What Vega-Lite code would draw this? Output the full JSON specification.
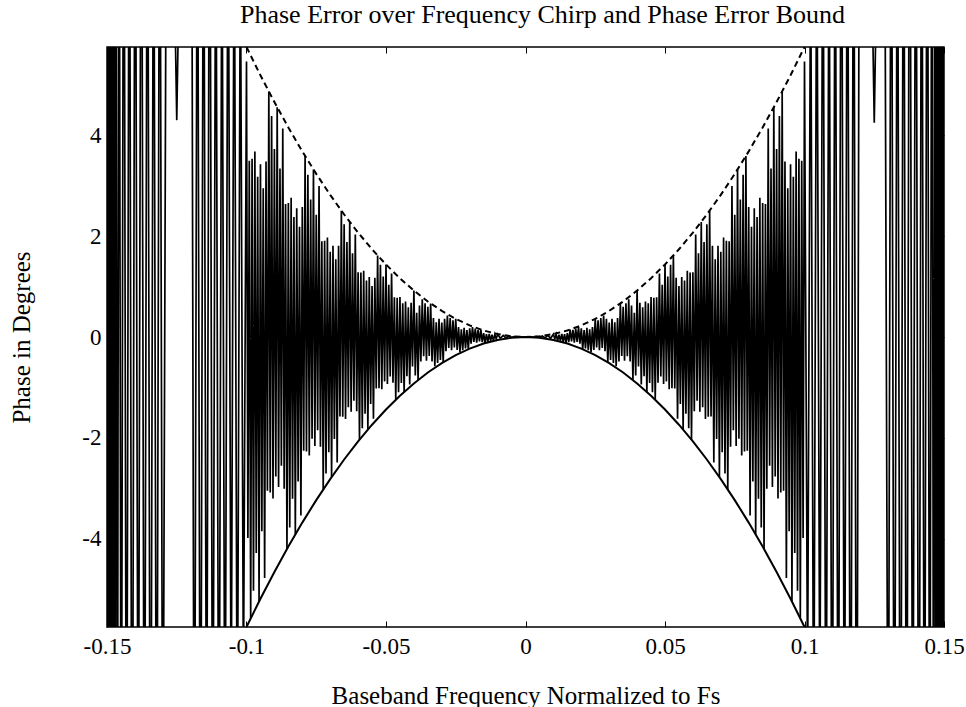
{
"$schema": "https://vega.github.io/schema/vega-lite/v6.json",
"width": 837, "height": 580,
"autosize": {"type": "none"},
"padding": {"left": 107, "top": 47, "right": 22, "bottom": 80},
"background": "white",
"config": {"view": {"stroke": "black", "strokeWidth": 1.5}, "font": "Liberation Serif"},
"title": {"text": "Phase Error over Frequency Chirp and Phase Error Bound", "font": "Liberation Serif", "fontSize": 26, "fontWeight": "normal", "color": "black", "offset": 19, "dx": 17},
"datasets": {
"sig": [
{"f":-0.1502,"p":12},{"f":-0.1499,"p":-12},{"f":-0.1496,"p":13},{"f":-0.1493,"p":-13},{"f":-0.1490,"p":12},{"f":-0.1487,"p":-13},{"f":-0.1484,"p":13},{"f":-0.1480,"p":-12},{"f":-0.1476,"p":13},{"f":-0.1472,"p":-13},{"f":-0.1468,"p":12},{"f":-0.1463,"p":-13},{"f":-0.1457,"p":13},{"f":-0.1449,"p":-12},{"f":-0.1440,"p":13},{"f":-0.1430,"p":-12},{"f":-0.1420,"p":12},{"f":-0.1410,"p":-13},{"f":-0.1399,"p":12},{"f":-0.1388,"p":-11},{"f":-0.1377,"p":13},{"f":-0.1366,"p":-12},{"f":-0.1355,"p":12},{"f":-0.1344,"p":-13},{"f":-0.1333,"p":11},{"f":-0.1322,"p":-12},{"f":-0.1311,"p":12},{"f":-0.1300,"p":-11},{"f":-0.1285,"p":13},{"f":-0.1264,"p":9},{"f":-0.1250,"p":4.3},{"f":-0.1236,"p":9},{"f":-0.1210,"p":12},{"f":-0.1198,"p":13},{"f":-0.1187,"p":-12},{"f":-0.1176,"p":11},{"f":-0.1165,"p":-12},{"f":-0.1154,"p":11},{"f":-0.1143,"p":-10},{"f":-0.1132,"p":12},{"f":-0.1121,"p":-11},{"f":-0.1110,"p":10},{"f":-0.1099,"p":-11},{"f":-0.1088,"p":9},{"f":-0.1077,"p":-10},{"f":-0.1066,"p":10},{"f":-0.1055,"p":-8},{"f":-0.1044,"p":9},{"f":-0.1033,"p":-9},{"f":-0.1022,"p":8},{"f":-0.1011,"p":-7},
{"f":-0.1000,"p":5.463},{"f":-0.0995,"p":-3.985},{"f":-0.0990,"p":3.494},{"f":-0.0985,"p":-5.579},{"f":-0.0980,"p":3.534},{"f":-0.0975,"p":-5.029},{"f":-0.0970,"p":3.679},{"f":-0.0965,"p":-4.283},{"f":-0.0960,"p":3.179},{"f":-0.0955,"p":-5.244},{"f":-0.0950,"p":3.425},{"f":-0.0945,"p":-3.851},{"f":-0.0940,"p":2.947},{"f":-0.0935,"p":-4.776},{"f":-0.0930,"p":3.481},{"f":-0.0925,"p":-3.050},{"f":-0.0920,"p":4.867},{"f":-0.0915,"p":-3.081},{"f":-0.0910,"p":4.380},{"f":-0.0905,"p":-3.202},{"f":-0.0900,"p":3.726},{"f":-0.0895,"p":-2.764},{"f":-0.0890,"p":4.555},{"f":-0.0885,"p":-2.973},{"f":-0.0880,"p":3.340},{"f":-0.0875,"p":-2.553},{"f":-0.0870,"p":4.134},{"f":-0.0865,"p":-3.011},{"f":-0.0860,"p":2.637},{"f":-0.0855,"p":-4.203},{"f":-0.0850,"p":2.659},{"f":-0.0845,"p":-3.778},{"f":-0.0840,"p":2.759},{"f":-0.0835,"p":-3.207},{"f":-0.0830,"p":2.377},{"f":-0.0825,"p":-3.914},{"f":-0.0820,"p":2.552},{"f":-0.0815,"p":-2.864},{"f":-0.0810,"p":2.188},{"f":-0.0805,"p":-3.540},{"f":-0.0800,"p":2.576},{"f":-0.0795,"p":-2.253},{"f":-0.0790,"p":3.589},{"f":-0.0785,"p":-2.268},{"f":-0.0780,"p":3.218},{"f":-0.0775,"p":-2.349},{"f":-0.0770,"p":2.727},{"f":-0.0765,"p":-2.019},{"f":-0.0760,"p":3.321},{"f":-0.0755,"p":-2.163},{"f":-0.0750,"p":2.426},{"f":-0.0745,"p":-1.851},{"f":-0.0740,"p":2.992},{"f":-0.0735,"p":-2.174},{"f":-0.0730,"p":1.900},{"f":-0.0725,"p":-3.022},{"f":-0.0720,"p":1.908},{"f":-0.0715,"p":-2.705},{"f":-0.0710,"p":1.971},{"f":-0.0705,"p":-2.286},{"f":-0.0700,"p":1.691},{"f":-0.0695,"p":-2.777},{"f":-0.0690,"p":1.807},{"f":-0.0685,"p":-2.024},{"f":-0.0680,"p":1.542},{"f":-0.0675,"p":-2.489},{"f":-0.0670,"p":1.807},{"f":-0.0665,"p":-1.577},{"f":-0.0660,"p":2.505},{"f":-0.0655,"p":-1.579},{"f":-0.0650,"p":2.235},{"f":-0.0645,"p":-1.627},{"f":-0.0640,"p":1.884},{"f":-0.0635,"p":-1.391},{"f":-0.0630,"p":2.282},{"f":-0.0625,"p":-1.482},{"f":-0.0620,"p":1.658},{"f":-0.0615,"p":-1.262},{"f":-0.0610,"p":2.033},{"f":-0.0605,"p":-1.474},{"f":-0.0600,"p":1.283},{"f":-0.0595,"p":-2.036},{"f":-0.0590,"p":1.281},{"f":-0.0585,"p":-1.811},{"f":-0.0580,"p":1.315},{"f":-0.0575,"p":-1.521},{"f":-0.0570,"p":1.121},{"f":-0.0565,"p":-1.836},{"f":-0.0560,"p":1.190},{"f":-0.0555,"p":-1.328},{"f":-0.0550,"p":1.009},{"f":-0.0545,"p":-1.623},{"f":-0.0540,"p":1.174},{"f":-0.0535,"p":-1.021},{"f":-0.0530,"p":1.615},{"f":-0.0525,"p":-1.014},{"f":-0.0520,"p":1.431},{"f":-0.0515,"p":-1.037},{"f":-0.0510,"p":1.197},{"f":-0.0505,"p":-0.880},{"f":-0.0500,"p":1.438},{"f":-0.0495,"p":-0.930},{"f":-0.0490,"p":1.036},{"f":-0.0485,"p":-0.785},{"f":-0.0480,"p":1.259},{"f":-0.0475,"p":-0.908},{"f":-0.0470,"p":0.787},{"f":-0.0465,"p":-1.243},{"f":-0.0460,"p":0.779},{"f":-0.0455,"p":-1.095},{"f":-0.0450,"p":0.792},{"f":-0.0445,"p":-0.911},{"f":-0.0440,"p":0.668},{"f":-0.0435,"p":-1.088},{"f":-0.0430,"p":0.702},{"f":-0.0425,"p":-0.779},{"f":-0.0420,"p":0.588},{"f":-0.0415,"p":-0.941},{"f":-0.0410,"p":0.677},{"f":-0.0405,"p":-0.585},{"f":-0.0400,"p":0.92},
{"f":-0.0395,"p":-0.763},{"f":-0.0390,"p":0.481},{"f":-0.0385,"p":-0.852},{"f":-0.0380,"p":0.623},{"f":-0.0375,"p":-0.485},{"f":-0.0370,"p":0.748},{"f":-0.0365,"p":-0.383},{"f":-0.0360,"p":0.671},{"f":-0.0355,"p":-0.471},{"f":-0.0350,"p":0.599},{"f":-0.0345,"p":-0.376},{"f":-0.0340,"p":0.665},{"f":-0.0335,"p":-0.484},{"f":-0.0330,"p":0.376},{"f":-0.0325,"p":-0.577},{"f":-0.0320,"p":0.294},{"f":-0.0315,"p":-0.513},{"f":-0.0310,"p":0.359},{"f":-0.0305,"p":-0.455},{"f":-0.0300,"p":0.285},{"f":-0.0295,"p":-0.500},{"f":-0.0290,"p":0.363},{"f":-0.0285,"p":-0.280},{"f":-0.0280,"p":0.428},{"f":-0.0275,"p":-0.217},{"f":-0.0270,"p":0.377},{"f":-0.0265,"p":-0.262},{"f":-0.0260,"p":0.330},{"f":-0.0255,"p":-0.206},{"f":-0.0250,"p":0.359},{"f":-0.0245,"p":-0.259},{"f":-0.0240,"p":0.199},{"f":-0.0235,"p":-0.302},{"f":-0.0230,"p":0.152},{"f":-0.0225,"p":-0.262},{"f":-0.0220,"p":0.181},{"f":-0.0215,"p":-0.226},{"f":-0.0210,"p":0.139},{"f":-0.0205,"p":-0.242},{"f":-0.0200,"p":0.173},{"f":-0.0195,"p":-0.131},{"f":-0.0190,"p":0.197},{"f":-0.0185,"p":-0.098},{"f":-0.0180,"p":0.168},{"f":-0.0175,"p":-0.114},{"f":-0.0170,"p":0.141},{"f":-0.0165,"p":-0.086},{"f":-0.0160,"p":0.147},{"f":-0.0155,"p":-0.104},{"f":-0.0150,"p":0.078},{"f":-0.0145,"p":-0.115},{"f":-0.0140,"p":0.056},{"f":-0.0135,"p":-0.094},{"f":-0.0130,"p":0.063},{"f":-0.0125,"p":-0.076},{"f":-0.0120,"p":0.046},{"f":-0.0115,"p":-0.076},{"f":-0.0110,"p":0.052},{"f":-0.0105,"p":-0.038},{"f":-0.0100,"p":0.055},
{"f":-0.009,"p":-0.026},{"f":-0.008,"p":0.033},{"f":-0.007,"p":-0.018},{"f":-0.006,"p":0.02},{"f":-0.005,"p":-0.007},{"f":-0.004,"p":0.007},{"f":-0.003,"p":-0.003},{"f":-0.002,"p":0.002},{"f":-0.001,"p":-0.001},{"f":0,"p":0},
{"f":0.001,"p":-0.001},{"f":0.002,"p":0.002},{"f":0.003,"p":-0.003},{"f":0.004,"p":0.007},{"f":0.005,"p":-0.007},{"f":0.006,"p":0.02},{"f":0.007,"p":-0.018},{"f":0.008,"p":0.033},{"f":0.009,"p":-0.026},
{"f":0.0100,"p":0.055},{"f":0.0105,"p":-0.038},{"f":0.0110,"p":0.052},{"f":0.0115,"p":-0.076},{"f":0.0120,"p":0.046},{"f":0.0125,"p":-0.076},{"f":0.0130,"p":0.063},{"f":0.0135,"p":-0.094},{"f":0.0140,"p":0.056},{"f":0.0145,"p":-0.115},{"f":0.0150,"p":0.078},{"f":0.0155,"p":-0.104},{"f":0.0160,"p":0.147},{"f":0.0165,"p":-0.086},{"f":0.0170,"p":0.141},{"f":0.0175,"p":-0.114},{"f":0.0180,"p":0.168},{"f":0.0185,"p":-0.098},{"f":0.0190,"p":0.197},{"f":0.0195,"p":-0.131},{"f":0.0200,"p":0.173},{"f":0.0205,"p":-0.242},{"f":0.0210,"p":0.139},{"f":0.0215,"p":-0.226},{"f":0.0220,"p":0.181},{"f":0.0225,"p":-0.262},{"f":0.0230,"p":0.152},{"f":0.0235,"p":-0.302},{"f":0.0240,"p":0.199},{"f":0.0245,"p":-0.259},{"f":0.0250,"p":0.359},{"f":0.0255,"p":-0.206},{"f":0.0260,"p":0.330},{"f":0.0265,"p":-0.262},{"f":0.0270,"p":0.377},{"f":0.0275,"p":-0.217},{"f":0.0280,"p":0.428},{"f":0.0285,"p":-0.280},{"f":0.0290,"p":0.363},{"f":0.0295,"p":-0.500},{"f":0.0300,"p":0.285},{"f":0.0305,"p":-0.455},{"f":0.0310,"p":0.359},{"f":0.0315,"p":-0.513},{"f":0.0320,"p":0.294},{"f":0.0325,"p":-0.577},{"f":0.0330,"p":0.376},{"f":0.0335,"p":-0.484},{"f":0.0340,"p":0.665},{"f":0.0345,"p":-0.376},{"f":0.0350,"p":0.599},{"f":0.0355,"p":-0.471},{"f":0.0360,"p":0.671},{"f":0.0365,"p":-0.383},{"f":0.0370,"p":0.748},{"f":0.0375,"p":-0.485},{"f":0.0380,"p":0.623},{"f":0.0385,"p":-0.852},{"f":0.0390,"p":0.481},{"f":0.0395,"p":-0.763},
{"f":0.0400,"p":0.92},{"f":0.0405,"p":-0.585},{"f":0.0410,"p":0.677},{"f":0.0415,"p":-0.941},{"f":0.0420,"p":0.588},{"f":0.0425,"p":-0.779},{"f":0.0430,"p":0.702},{"f":0.0435,"p":-1.088},{"f":0.0440,"p":0.668},{"f":0.0445,"p":-0.911},{"f":0.0450,"p":0.792},{"f":0.0455,"p":-1.095},{"f":0.0460,"p":0.779},{"f":0.0465,"p":-1.243},{"f":0.0470,"p":0.787},{"f":0.0475,"p":-0.908},{"f":0.0480,"p":1.259},{"f":0.0485,"p":-0.785},{"f":0.0490,"p":1.036},{"f":0.0495,"p":-0.930},{"f":0.0500,"p":1.438},{"f":0.0505,"p":-0.880},{"f":0.0510,"p":1.197},{"f":0.0515,"p":-1.037},{"f":0.0520,"p":1.431},{"f":0.0525,"p":-1.014},{"f":0.0530,"p":1.615},{"f":0.0535,"p":-1.021},{"f":0.0540,"p":1.174},{"f":0.0545,"p":-1.623},{"f":0.0550,"p":1.009},{"f":0.0555,"p":-1.328},{"f":0.0560,"p":1.190},{"f":0.0565,"p":-1.836},{"f":0.0570,"p":1.121},{"f":0.0575,"p":-1.521},{"f":0.0580,"p":1.315},{"f":0.0585,"p":-1.811},{"f":0.0590,"p":1.281},{"f":0.0595,"p":-2.036},{"f":0.0600,"p":1.283},{"f":0.0605,"p":-1.474},{"f":0.0610,"p":2.033},{"f":0.0615,"p":-1.262},{"f":0.0620,"p":1.658},{"f":0.0625,"p":-1.482},{"f":0.0630,"p":2.282},{"f":0.0635,"p":-1.391},{"f":0.0640,"p":1.884},{"f":0.0645,"p":-1.627},{"f":0.0650,"p":2.235},{"f":0.0655,"p":-1.579},{"f":0.0660,"p":2.505},{"f":0.0665,"p":-1.577},{"f":0.0670,"p":1.807},{"f":0.0675,"p":-2.489},{"f":0.0680,"p":1.542},{"f":0.0685,"p":-2.024},{"f":0.0690,"p":1.807},{"f":0.0695,"p":-2.777},{"f":0.0700,"p":1.691},{"f":0.0705,"p":-2.286},{"f":0.0710,"p":1.971},{"f":0.0715,"p":-2.705},{"f":0.0720,"p":1.908},{"f":0.0725,"p":-3.022},{"f":0.0730,"p":1.900},{"f":0.0735,"p":-2.174},{"f":0.0740,"p":2.992},{"f":0.0745,"p":-1.851},{"f":0.0750,"p":2.426},{"f":0.0755,"p":-2.163},{"f":0.0760,"p":3.321},{"f":0.0765,"p":-2.019},{"f":0.0770,"p":2.727},{"f":0.0775,"p":-2.349},{"f":0.0780,"p":3.218},{"f":0.0785,"p":-2.268},{"f":0.0790,"p":3.589},{"f":0.0795,"p":-2.253},{"f":0.0800,"p":2.576},{"f":0.0805,"p":-3.540},{"f":0.0810,"p":2.188},{"f":0.0815,"p":-2.864},{"f":0.0820,"p":2.552},{"f":0.0825,"p":-3.914},{"f":0.0830,"p":2.377},{"f":0.0835,"p":-3.207},{"f":0.0840,"p":2.759},{"f":0.0845,"p":-3.778},{"f":0.0850,"p":2.659},{"f":0.0855,"p":-4.203},{"f":0.0860,"p":2.637},{"f":0.0865,"p":-3.011},{"f":0.0870,"p":4.134},{"f":0.0875,"p":-2.553},{"f":0.0880,"p":3.340},{"f":0.0885,"p":-2.973},{"f":0.0890,"p":4.555},{"f":0.0895,"p":-2.764},{"f":0.0900,"p":3.726},{"f":0.0905,"p":-3.202},{"f":0.0910,"p":4.380},{"f":0.0915,"p":-3.081},{"f":0.0920,"p":4.867},{"f":0.0925,"p":-3.050},{"f":0.0930,"p":3.481},{"f":0.0935,"p":-4.776},{"f":0.0940,"p":2.947},{"f":0.0945,"p":-3.851},{"f":0.0950,"p":3.425},{"f":0.0955,"p":-5.244},{"f":0.0960,"p":3.179},{"f":0.0965,"p":-4.283},{"f":0.0970,"p":3.679},{"f":0.0975,"p":-5.029},{"f":0.0980,"p":3.534},{"f":0.0985,"p":-5.579},{"f":0.0990,"p":3.494},{"f":0.0995,"p":-3.985},{"f":0.1000,"p":5.463},
{"f":0.1011,"p":-7},{"f":0.1022,"p":8},{"f":0.1033,"p":-9},{"f":0.1044,"p":9},{"f":0.1055,"p":-8},{"f":0.1066,"p":10},{"f":0.1077,"p":-10},{"f":0.1088,"p":9},{"f":0.1099,"p":-11},{"f":0.1110,"p":10},{"f":0.1121,"p":-11},{"f":0.1132,"p":12},{"f":0.1143,"p":-10},{"f":0.1154,"p":11},{"f":0.1165,"p":-12},{"f":0.1176,"p":11},{"f":0.1187,"p":-12},{"f":0.1198,"p":13},{"f":0.1210,"p":12},{"f":0.1236,"p":9},{"f":0.1250,"p":4.25},{"f":0.1264,"p":9},{"f":0.1285,"p":13},{"f":0.1300,"p":-11},{"f":0.1311,"p":12},{"f":0.1322,"p":-12},{"f":0.1333,"p":11},{"f":0.1344,"p":-13},{"f":0.1355,"p":12},{"f":0.1366,"p":-12},{"f":0.1377,"p":13},{"f":0.1388,"p":-11},{"f":0.1399,"p":12},{"f":0.1410,"p":-13},{"f":0.1420,"p":12},{"f":0.1430,"p":-12},{"f":0.1440,"p":13},{"f":0.1449,"p":-12},{"f":0.1457,"p":13},{"f":0.1463,"p":-13},{"f":0.1468,"p":12},{"f":0.1472,"p":-13},{"f":0.1476,"p":13},{"f":0.1480,"p":-12},{"f":0.1484,"p":13},{"f":0.1487,"p":-13},{"f":0.1490,"p":12},{"f":0.1493,"p":-13},{"f":0.1496,"p":13},{"f":0.1499,"p":-12},{"f":0.1502,"p":12}
],
"bound": [
{"f":-0.100,"up":5.75,"lo":-5.75},{"f":-0.095,"up":5.189,"lo":-5.189},{"f":-0.090,"up":4.658,"lo":-4.658},{"f":-0.085,"up":4.154,"lo":-4.154},{"f":-0.080,"up":3.68,"lo":-3.68},{"f":-0.075,"up":3.234,"lo":-3.234},{"f":-0.070,"up":2.818,"lo":-2.818},{"f":-0.065,"up":2.429,"lo":-2.429},{"f":-0.060,"up":2.07,"lo":-2.07},{"f":-0.055,"up":1.739,"lo":-1.739},{"f":-0.050,"up":1.438,"lo":-1.438},{"f":-0.045,"up":1.164,"lo":-1.164},{"f":-0.040,"up":0.92,"lo":-0.92},{"f":-0.035,"up":0.704,"lo":-0.704},{"f":-0.030,"up":0.518,"lo":-0.518},{"f":-0.025,"up":0.359,"lo":-0.359},{"f":-0.020,"up":0.23,"lo":-0.23},{"f":-0.015,"up":0.129,"lo":-0.129},{"f":-0.010,"up":0.058,"lo":-0.058},{"f":-0.005,"up":0.014,"lo":-0.014},{"f":0,"up":0,"lo":0},
{"f":0.005,"up":0.014,"lo":-0.014},{"f":0.010,"up":0.058,"lo":-0.058},{"f":0.015,"up":0.129,"lo":-0.129},{"f":0.020,"up":0.23,"lo":-0.23},{"f":0.025,"up":0.359,"lo":-0.359},{"f":0.030,"up":0.518,"lo":-0.518},{"f":0.035,"up":0.704,"lo":-0.704},{"f":0.040,"up":0.92,"lo":-0.92},{"f":0.045,"up":1.164,"lo":-1.164},{"f":0.050,"up":1.438,"lo":-1.438},{"f":0.055,"up":1.739,"lo":-1.739},{"f":0.060,"up":2.07,"lo":-2.07},{"f":0.065,"up":2.429,"lo":-2.429},{"f":0.070,"up":2.818,"lo":-2.818},{"f":0.075,"up":3.234,"lo":-3.234},{"f":0.080,"up":3.68,"lo":-3.68},{"f":0.085,"up":4.154,"lo":-4.154},{"f":0.090,"up":4.658,"lo":-4.658},{"f":0.095,"up":5.189,"lo":-5.189},{"f":0.100,"up":5.75,"lo":-5.75}
]
},
"layer": [
{
"data": {"name": "sig"},
"mark": {"type": "line", "color": "black", "strokeWidth": 1.7, "clip": true},
"encoding": {
"x": {"field": "f", "type": "quantitative", "scale": {"domain": [-0.15, 0.15], "nice": false, "zero": false},
"axis": {"orient": "bottom", "values": [-0.15, -0.1, -0.05, 0, 0.05, 0.1, 0.15], "labelExpr": "replace(format(datum.value, '.2~f'), '\u2212', '-')", "title": "Baseband Frequency Normalized to Fs", "grid": false, "domain": false, "tickSize": -6, "tickColor": "black", "tickWidth": 1, "labelFont": "Liberation Serif", "labelFontSize": 23, "labelColor": "black", "labelPadding": 14, "labelFlush": false, "titleFont": "Liberation Serif", "titleFontSize": 25, "titleFontWeight": "normal", "titleColor": "black", "titlePadding": 25}},
"y": {"field": "p", "type": "quantitative", "scale": {"domain": [-5.75, 5.75], "nice": false, "zero": false},
"axis": {"orient": "left", "values": [-4, -2, 0, 2, 4], "labelExpr": "replace(format(datum.value, 'd'), '\u2212', '-')", "title": "Phase in Degrees", "grid": false, "domain": false, "tickSize": -6, "tickColor": "black", "tickWidth": 1, "labelFont": "Liberation Serif", "labelFontSize": 23, "labelColor": "black", "labelPadding": 12, "titleFont": "Liberation Serif", "titleFontSize": 25, "titleFontWeight": "normal", "titleColor": "black", "titlePadding": 47}}
}
},
{
"data": {"name": "bound"},
"mark": {"type": "line", "color": "black", "strokeWidth": 2, "strokeDash": [6, 4], "clip": true},
"encoding": {
"x": {"field": "f", "type": "quantitative", "scale": {"domain": [-0.15, 0.15], "nice": false, "zero": false},
"axis": {"orient": "top", "values": [-0.15, -0.1, -0.05, 0, 0.05, 0.1, 0.15], "labels": false, "title": null, "grid": false, "domain": false, "tickSize": -6, "tickColor": "black"}},
"y": {"field": "up", "type": "quantitative", "scale": {"domain": [-5.75, 5.75], "nice": false, "zero": false},
"axis": {"orient": "right", "values": [-4, -2, 0, 2, 4], "labels": false, "title": null, "grid": false, "domain": false, "tickSize": -6, "tickColor": "black"}}
}
},
{
"data": {"name": "bound"},
"mark": {"type": "line", "color": "black", "strokeWidth": 2, "clip": true},
"encoding": {
"x": {"field": "f", "type": "quantitative", "axis": null},
"y": {"field": "lo", "type": "quantitative", "axis": null}
}
}
],
"resolve": {"axis": {"x": "independent", "y": "independent"}}
}
